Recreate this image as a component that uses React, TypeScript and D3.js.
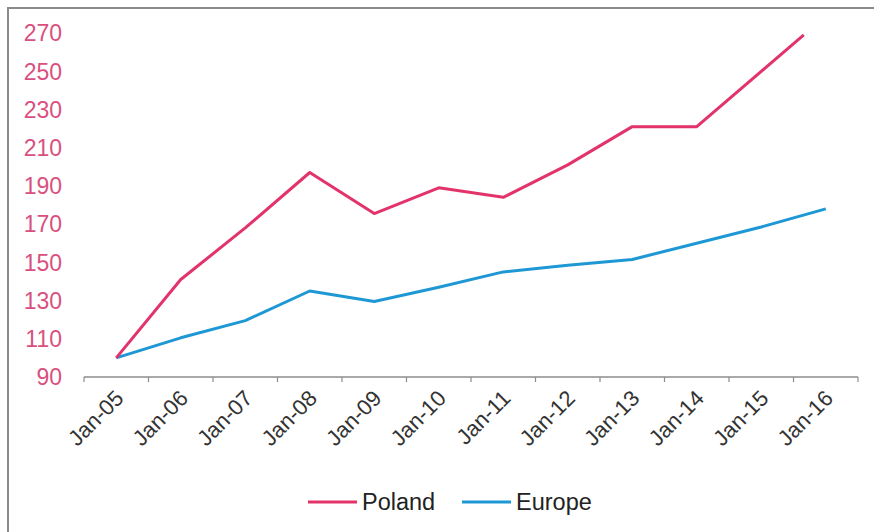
import React, { useEffect, useRef } from 'react';
import * as d3 from 'd3';

// category labels on the x axis
const categories = ['Jan-05', 'Jan-06', 'Jan-07', 'Jan-08', 'Jan-09', 'Jan-10', 'Jan-11', 'Jan-12', 'Jan-13', 'Jan-14', 'Jan-15', 'Jan-16'];

// x position in years since Jan-05, value indexed to 100
const polandX = [0, 1, 2, 3, 4, 5, 6, 7, 8, 9, 10.66];
const polandY = [100, 141, 168, 197, 175.5, 189, 184, 201, 221, 221, 269];

const europeX = [0, 1, 2, 3, 4, 5, 6, 7, 8, 9, 10, 11];
const europeY = [100, 110.5, 119.5, 135, 129.5, 137, 145, 148.5, 151.5, 160, 168.5, 178];

const yTicks = [90, 110, 130, 150, 170, 190, 210, 230, 250, 270];

const POLAND = '#e2336b';
const EUROPE = '#1e98d4';
const FONT = 'Liberation Sans, Arial, sans-serif';

export default function App() {
  const svgRef = useRef<SVGSVGElement>(null);
  const width = 874;
  const height = 532;

  useEffect(() => {
    if (!svgRef.current) return;
    const svg = d3.select(svgRef.current);
    svg.selectAll('*').remove();

    const left = 84, right = 858, top = 33, bottom = 377;

    const x = d3.scaleLinear().domain([-0.5, categories.length - 0.5]).range([left, right]);
    const y = d3.scaleLinear().domain([90, 270]).range([bottom, top]);

    svg.append('rect').attr('width', width).attr('height', height).attr('fill', '#fff');

    // frame
    svg.append('path')
      .attr('d', `M8,${height} V8 H${width}`)
      .attr('fill', 'none')
      .attr('stroke', '#8a8a8a')
      .attr('stroke-width', 2);

    // y labels
    svg.append('g')
      .selectAll('text')
      .data(yTicks)
      .join('text')
      .attr('x', 62)
      .attr('y', (d) => y(d))
      .attr('dy', '0.36em')
      .attr('text-anchor', 'end')
      .attr('fill', '#d9507f')
      .style('font', `23px ${FONT}`)
      .text((d) => d);

    // x axis
    const gx = svg.append('g');
    gx.append('line')
      .attr('x1', left).attr('x2', right)
      .attr('y1', bottom).attr('y2', bottom)
      .attr('stroke', '#8c8c8c').attr('stroke-width', 1.5);
    gx.selectAll('line.tick')
      .data(d3.range(categories.length + 1))
      .join('line')
      .attr('class', 'tick')
      .attr('x1', (d) => x(d - 0.5)).attr('x2', (d) => x(d - 0.5))
      .attr('y1', bottom).attr('y2', bottom + 5)
      .attr('stroke', '#8c8c8c').attr('stroke-width', 1.2);
    gx.selectAll('text')
      .data(categories)
      .join('text')
      .attr('transform', (d, i) => `translate(${x(i) + 3},${bottom + 17}) rotate(-45)`)
      .attr('text-anchor', 'end')
      .attr('dy', '0.36em')
      .attr('fill', '#333')
      .style('font', `22px ${FONT}`)
      .text((d) => d);

    const line = d3.line<[number, number]>()
      .x((d) => x(d[0]))
      .y((d) => y(d[1]));

    const series = [
      { name: 'Europe', color: EUROPE, pts: europeX.map((v, i) => [v, europeY[i]] as [number, number]) },
      { name: 'Poland', color: POLAND, pts: polandX.map((v, i) => [v, polandY[i]] as [number, number]) },
    ];

    svg.append('g')
      .selectAll('path')
      .data(series)
      .join('path')
      .attr('d', (d) => line(d.pts))
      .attr('fill', 'none')
      .attr('stroke', (d) => d.color)
      .attr('stroke-width', 3)
      .attr('stroke-linejoin', 'round');

    // legend
    const legend = [
      { name: 'Poland', color: POLAND, x0: 308 },
      { name: 'Europe', color: EUROPE, x0: 462 },
    ];
    const lg = svg.append('g').selectAll('g').data(legend).join('g')
      .attr('transform', (d) => `translate(${d.x0},502)`);
    lg.append('line')
      .attr('x1', 0).attr('x2', 49)
      .attr('stroke', (d) => d.color).attr('stroke-width', 3);
    lg.append('text')
      .attr('x', 54)
      .attr('dy', '0.36em')
      .attr('fill', '#222')
      .style('font', `23.5px ${FONT}`)
      .text((d) => d.name);
  }, []);

  return (
    <div style={{ position: 'absolute', left: 0, top: 0 }}>
      <svg ref={svgRef} width={width} height={height} style={{ display: 'block' }} />
    </div>
  );
}
